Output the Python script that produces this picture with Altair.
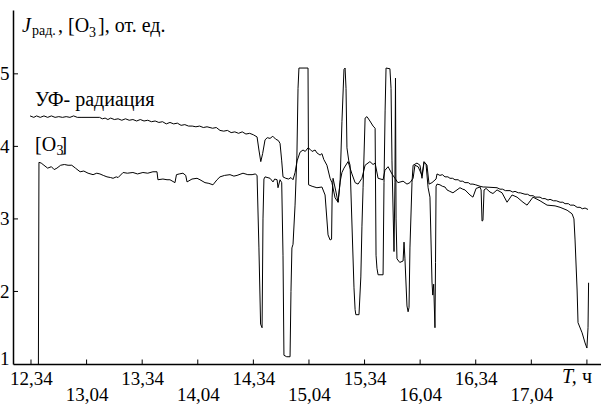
import altair as alt
import pandas as pd

# time in minutes after 12:34, values in relative units
uv_t = [-0.5, 1.5, 3, 5, 7, 9, 11, 13, 15, 17, 19, 21, 23, 25, 27, 37, 38.5, 40, 41.5, 43, 45, 47, 49, 51, 53,
        55, 57, 59, 61, 63, 65, 67, 69, 71, 73, 75, 77, 79, 81, 83, 85, 87, 89, 91, 93, 95, 98, 100, 102, 104,
        106, 108, 110, 112, 114, 116, 118, 120, 122, 123, 124, 125, 126.3, 127.5, 129, 130.5, 132, 133.5, 134.4,
        135.3, 136, 137.5, 139, 140.3, 141.4, 142.5, 143.6, 145.2, 146.8, 148, 149.5, 150.6, 151.7, 153.3, 154.3,
        156, 157, 158, 159.7, 161.4, 162.4, 164.1, 165.7, 166.8, 167.8, 168.9, 171.1, 173.2, 174.9, 176.5, 178.6,
        180.3, 182.9, 184.6, 185.7, 187.3, 190, 191, 192.7, 194.8, 196.4, 198, 200.8, 202.9, 204.5, 206.2, 207.2,
        208.9, 211, 212.1, 213.7, 214.8, 216.4, 218.6, 219.1, 220.7, 222, 223.4, 225, 226.1, 227.5, 228.8, 230.5,
        231.5, 233, 234.2, 236, 237, 238.5, 240, 242.3, 244, 245, 251.5, 253.1, 254.5, 256, 258.5, 260, 261.2, 263,
        264, 266.6, 268, 269.3, 271, 272, 274.7, 276, 277.4, 279, 280.1, 282, 283.5, 285.5, 287, 288.2, 290, 291,
        293, 294.7, 296.3, 297.5, 299, 300.6]
uv_v = [4.42, 4.40, 4.42, 4.40, 4.42, 4.40, 4.42, 4.40, 4.41, 4.40, 4.41, 4.40, 4.42, 4.40, 4.40, 4.40, 4.38,
        4.39, 4.37, 4.39, 4.37, 4.38, 4.36, 4.38, 4.36, 4.37, 4.35, 4.37, 4.35, 4.36, 4.34, 4.35, 4.33, 4.34,
        4.31, 4.33, 4.31, 4.32, 4.29, 4.30, 4.28, 4.28, 4.27, 4.28, 4.26, 4.27, 4.25, 4.26, 4.22, 4.21, 4.22,
        4.19, 4.20, 4.18, 4.20, 4.17, 4.18, 4.16, 4.13, 3.95, 3.79, 3.90, 4.09, 4.12, 4.11, 4.14, 4.10, 4.08,
        4.04, 3.80, 3.58, 3.56, 3.55, 3.57, 3.54, 3.64, 3.80, 3.92, 3.95, 3.93, 3.98, 3.96, 3.93, 3.95, 3.91,
        3.88, 3.90, 3.82, 3.74, 3.56, 3.50, 3.29, 3.23, 3.51, 3.64, 3.70, 3.79, 3.62, 3.50, 3.48, 3.56, 3.74,
        3.79, 3.75, 3.77, 3.56, 3.54, 3.67, 3.72, 3.62, 3.56, 3.50, 3.52, 3.48, 3.50, 3.56, 3.74, 3.72, 3.60,
        3.79, 3.74, 3.48, 3.50, 3.55, 3.62, 3.60, 3.61, 3.58, 3.58, 3.56, 3.56, 3.54, 3.54, 3.52, 3.52, 3.50,
        3.50, 3.48, 3.48, 3.47, 3.45, 3.44, 3.44, 3.43, 3.41, 3.41, 3.39, 3.39, 3.37, 3.38, 3.36, 3.36, 3.34,
        3.34, 3.32, 3.32, 3.30, 3.30, 3.28, 3.28, 3.26, 3.27, 3.25, 3.25, 3.23, 3.23, 3.21, 3.21, 3.19, 3.19,
        3.16, 3.16, 3.14, 3.15, 3.13]

o3_t = [4.0, 4.3, 5.5, 7, 9, 11, 12.5, 14, 16, 18, 20, 22, 24, 26.5, 28.5, 30.8, 33.5, 35.5, 37.2, 39, 41, 43,
        44.3, 46, 47, 49.7, 52, 55, 57.5, 60.4, 63, 65.8, 68, 68.5, 71.2, 73.4, 75, 77.7, 78.5, 80, 82, 83.5, 84.2,
        86.9, 89.6, 91.2, 93.9, 96, 98.2, 100.4, 102, 104.5, 107.4, 109.5, 111.2, 114.4, 117, 119.3, 121, 122,
        123, 123.9, 124.7, 125.2, 125.7, 126.3, 129, 130.6, 131.5, 132.8, 133.3, 134.4, 135.3, 136, 136.5, 138,
        139.8, 140.3, 140.8, 141.4, 142.5, 143.5, 144.1, 144.6, 149.5, 149.8, 151.7, 154.3, 157, 158.7, 160.3,
        161.4, 162.2, 162.5, 163, 164.6, 165.7, 166.8, 167.8, 168.9, 169.5, 170, 170.5, 171.5, 172.2, 174.3,
        174.9, 175.3, 177, 178, 178.6, 179.2, 180.3, 181.3, 182.9, 184.6, 185.7, 186.2, 186.7, 187.3, 190, 190.5,
        191.1, 191.6, 193.7, 194.3, 194.8, 195.9, 196.4, 196.7, 197.0, 197.5, 199, 200.8, 201.3, 201.8, 202.9,
        203.5, 204, 204.5, 205.6, 206.2, 208.3, 209.9, 211, 212.1, 213.2, 214.3, 215.3, 216.4, 216.8, 217.3, 218,
        218.3, 218.6, 219.1, 220.7, 222, 223.4, 224.5, 226, 227.7, 229.9, 231.5, 233, 234.2, 236.9, 238.5, 240.2,
        242.3, 242.9, 243.4, 243.9, 244.5, 245.6, 247.7, 249.3, 251.5, 254.2, 256.9, 259.6, 262.3, 265.5, 267.7,
        270.9, 274.7, 278.5, 282.8, 285.5, 289.3, 292, 293, 293.6, 294.7, 295.2, 297.4, 299, 300, 300.6, 300.9]
o3_v = [1.0, 3.78, 3.77, 3.74, 3.70, 3.72, 3.68, 3.70, 3.74, 3.75, 3.74, 3.74, 3.70, 3.65, 3.66, 3.63, 3.61,
        3.63, 3.62, 3.60, 3.58, 3.57, 3.56, 3.58, 3.57, 3.64, 3.63, 3.64, 3.62, 3.64, 3.63, 3.65, 3.65, 3.54,
        3.55, 3.54, 3.54, 3.50, 3.61, 3.62, 3.63, 3.60, 3.51, 3.55, 3.56, 3.54, 3.50, 3.49, 3.47, 3.54, 3.58,
        3.60, 3.61, 3.59, 3.60, 3.63, 3.61, 3.61, 3.62, 3.60, 2.6, 1.55, 1.50, 3.0, 3.55, 3.58, 3.56, 3.51,
        3.55, 3.54, 3.43, 3.54, 3.5, 2.5, 1.12, 1.10, 1.10, 2.0, 2.60, 2.65, 3.19, 3.88, 4.80, 5.08, 5.08, 3.47,
        3.45, 3.43, 3.44, 3.33, 2.78, 2.71, 2.72, 3.3, 3.56, 3.37, 3.23, 3.5, 4.34, 5.06, 5.08, 4.8, 3.98, 3.8,
        3.74, 2.05, 1.75, 1.68, 1.68, 2.2, 2.9, 3.43, 4.39, 4.41, 4.35, 4.28, 4.25, 2.5, 2.32, 2.23, 2.23, 3.5,
        4.5, 5.08, 5.07, 4.8, 3.8, 2.55, 3.5, 4.94, 3.0, 2.45, 2.40, 2.42, 2.68, 2.45, 1.80, 1.72, 1.78, 2.6,
        3.50, 3.74, 3.77, 3.74, 3.56, 3.78, 3.75, 3.43, 3.30, 2.13, 1.95, 2.1, 1.50, 2.4, 3.45, 3.48, 3.47, 3.45,
        3.44, 3.40, 3.38, 3.36, 3.40, 3.43, 3.41, 3.40, 3.33, 3.30, 3.42, 3.44, 3.40, 2.97, 2.98, 3.40, 3.42,
        3.37, 3.35, 3.40, 3.36, 3.23, 3.33, 3.30, 3.23, 3.19, 3.30, 3.25, 3.19, 3.18, 3.16, 3.12, 3.07, 3.00,
        2.71, 2.02, 1.57, 1.43, 1.29, 1.22, 1.5, 2.12]

tick_minutes = [0, 30, 60, 90, 120, 150, 180, 210, 240, 270]
tick_labels = ["12,34", "13,04", "13,34", "14,04", "14,34", "15,04", "15,34", "16,04", "16,34", "17,04"]
all_x_ticks = [0, 30, 60, 90, 120, 150, 180, 210, 240, 270, 300]
y_labels = [1, 2, 3, 4, 5]
y_inner_ticks = [2, 3, 4, 5]

rows = []
for name, ts, vs in [("uv", uv_t, uv_v), ("o3", o3_t, o3_v)]:
    for i, (t, v) in enumerate(zip(ts, vs)):
        rows.append({"series": name, "i": i, "t": t, "v": v})
df = pd.DataFrame(rows)

# label expression (staggered rows)
expr = "''"
for k in range(len(tick_minutes) - 1, -1, -1):
    lab = f"'{tick_labels[k]}'" if k % 2 == 0 else f"['', '{tick_labels[k]}']"
    expr = f"datum.value == {tick_minutes[k]} ? {lab} : ({expr})"

FONT = "Liberation Serif"
xs = alt.Scale(domain=[-9.71, 307.6], nice=False, zero=False)
ys = alt.Scale(domain=[1.0, 5.88], nice=False, zero=False)

x_axis = alt.Axis(values=tick_minutes, labelExpr=expr, title=None, grid=False, ticks=False, tickSize=0,
                  domain=True, domainColor="black", domainWidth=1.5, labelFont=FONT, labelFontSize=19,
                  labelColor="black", labelPadding=5, labelBaseline="top", labelLineHeight=16,
                  labelOverlap=False, labelFlush=False)
y_axis = alt.Axis(values=y_labels, format="d", title=None, grid=False, ticks=False, tickSize=0,
                  domain=True, domainColor="black", domainWidth=1.5, labelFont=FONT, labelFontSize=19,
                  labelColor="black", labelPadding=4, labelOverlap=False, labelFlush=False,
                  labelBaseline={"condition": {"test": "datum.value === 1", "value": "alphabetic"},
                                 "value": "middle"})

X = alt.X("t:Q", scale=xs, axis=x_axis)
Y = alt.Y("v:Q", scale=ys, axis=y_axis)

lines = alt.Chart(df).mark_line(color="black", strokeWidth=1).encode(
    x=X, y=Y, detail="series:N", order="i:Q")

xt = alt.Chart(pd.DataFrame({"t": all_x_ticks})).mark_rule(color="black", strokeWidth=1).encode(
    x=X, y=alt.value(354), y2=alt.value(349.5))
yt = alt.Chart(pd.DataFrame({"v": y_inner_ticks})).mark_rule(color="black", strokeWidth=1).encode(
    y=Y, x=alt.value(0), x2=alt.value(5))

# annotations (positions in data units)
ann_reg = pd.DataFrame({"text": [", [O", "], от. ед.", "УФ- радиация", "[O", "]", "ч"],
                        "t": [14.6, 36.16, 2.16, 2.16, 15.9, 297.4],
                        "v": [5.58, 5.58, 4.56, 3.94, 3.94, 0.738]})
ann_sub = pd.DataFrame({"text": ["рад.", "3", "3"],
                        "t": [0.54, 31.3, 13.7],
                        "v": [5.54, 5.51, 3.88]})
ann_it = pd.DataFrame({"text": ["J", "T,"], "t": [-4.86, 286.6], "v": [5.58, 0.738]})

t_reg = alt.Chart(ann_reg).mark_text(font=FONT, fontSize=20, align="left", baseline="alphabetic",
                                     color="black").encode(x=X, y=Y, text="text:N")
t_sub = alt.Chart(ann_sub).mark_text(font=FONT, fontSize=14, align="left", baseline="alphabetic",
                                     color="black").encode(x=X, y=Y, text="text:N")
t_it = alt.Chart(ann_it).mark_text(font=FONT, fontSize=20, fontStyle="italic", align="left",
                                   baseline="alphabetic", color="black").encode(x=X, y=Y, text="text:N")

chart = alt.layer(lines, xt, yt, t_reg, t_sub, t_it).properties(
    width=588, height=354,
    background="white",
    autosize=alt.AutoSizeParams(type="none"),
    padding={"left": 13, "top": 10, "right": 0, "bottom": 42},
).configure_view(stroke=None)

chart.save("out.html", embed_options={"renderer": "svg", "actions": False})
